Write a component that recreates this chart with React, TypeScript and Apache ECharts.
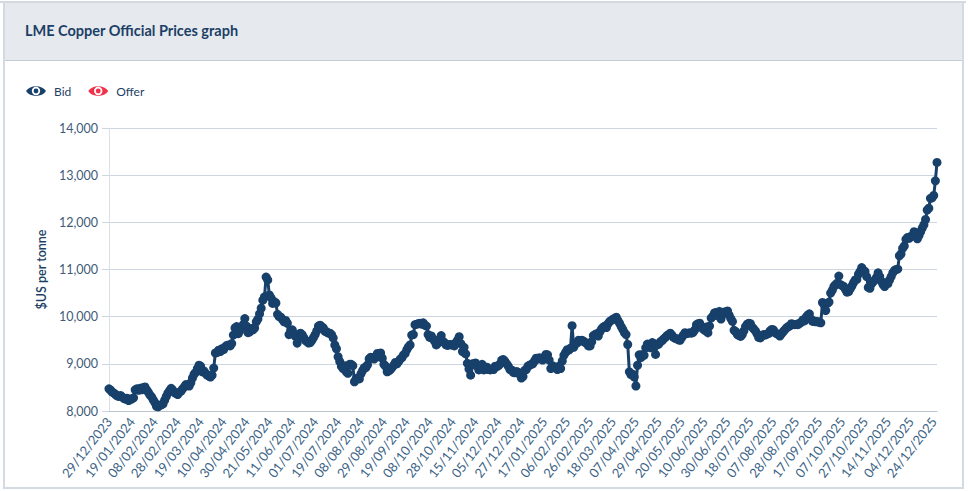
import React, { useEffect, useRef } from "react";
import * as echarts from "echarts";

const tickLabels = ["29/12/2023","19/01/2024","08/02/2024","28/02/2024","19/03/2024","10/04/2024","30/04/2024","21/05/2024","11/06/2024","01/07/2024","19/07/2024","08/08/2024","29/08/2024","19/09/2024","08/10/2024","28/10/2024","15/11/2024","05/12/2024","27/12/2024","17/01/2025","06/02/2025","26/02/2025","18/03/2025","07/04/2025","29/04/2025","20/05/2025","10/06/2025","30/06/2025","18/07/2025","07/08/2025","28/08/2025","17/09/2025","07/10/2025","27/10/2025","14/11/2025","04/12/2025","24/12/2025"];

const bidValues = [
  8470,8440,8400,8380,8350,8320,8310,8330,8300,8270,8250,8270,8220,8240,
  8260,8280,8450,8470,8440,8480,8450,8500,8510,8450,8400,8340,8300,8240,
  8180,8100,8090,8120,8130,8150,8230,8310,8380,8430,8480,8440,8390,8370,
  8350,8400,8420,8470,8510,8560,8540,8530,8600,8700,8780,8820,8900,8970,
  8950,8830,8850,8800,8760,8740,8720,8760,8910,9230,9240,9290,9260,9320,
  9300,9360,9390,9400,9380,9430,9610,9760,9790,9640,9700,9780,9830,9960,
  9800,9660,9680,9750,9720,9760,9890,9950,10060,10180,10350,10420,10840,10780,
  10460,10400,10280,10320,10290,10050,10000,9990,9940,9890,9920,9860,9620,9700,
  9720,9640,9580,9440,9560,9650,9620,9560,9500,9470,9440,9450,9500,9560,
  9620,9700,9800,9820,9790,9760,9690,9680,9650,9650,9620,9550,9400,9320,
  9150,9050,8950,8900,8960,8830,8800,8990,8990,8960,8620,8680,8700,8680,
  8790,8860,8920,8920,8980,9110,9140,9130,9100,9150,9220,9150,9230,9120,
  8990,8950,8830,8850,8880,8920,8970,9030,9000,9050,9100,9130,9190,9220,
  9300,9360,9400,9610,9620,9830,9840,9850,9860,9840,9870,9820,9800,9620,
  9560,9590,9530,9480,9400,9440,9520,9600,9480,9450,9400,9390,9410,9400,
  9410,9380,9450,9500,9575,9430,9260,9350,9210,9010,8890,8760,9000,8990,
  9020,8950,8870,8920,8990,8870,8890,8930,8880,8870,8890,8880,8950,8940,
  8960,9000,9080,9090,9050,9000,8950,8880,8870,8820,8810,8840,8820,8780,
  8700,8730,8860,8880,8950,8970,8990,9000,9060,9120,9100,9130,9110,9080,
  9140,9200,9190,9080,8900,8960,8920,8930,8880,8950,8900,9060,9180,9240,
  9300,9290,9330,9810,9350,9430,9440,9500,9480,9500,9480,9450,9440,9380,
  9380,9470,9600,9620,9640,9590,9680,9740,9780,9800,9770,9850,9900,9920,
  9950,9960,9990,9920,9860,9790,9730,9660,9620,9410,8830,8770,8780,8720,
  8530,8970,9190,9130,9200,9180,9340,9420,9410,9340,9450,9430,9200,9400,
  9420,9470,9490,9530,9560,9600,9620,9650,9610,9560,9540,9530,9510,9500,
  9560,9610,9660,9640,9650,9660,9650,9670,9720,9830,9850,9860,9790,9740,
  9710,9780,9660,9800,9970,10010,10080,10090,10020,10110,9950,10080,10100,10080,
  10120,10030,9960,9900,9710,9680,9620,9600,9580,9620,9700,9790,9840,9860,
  9850,9780,9740,9700,9640,9560,9550,9590,9620,9610,9630,9640,9700,9730,
  9720,9660,9640,9620,9590,9640,9680,9720,9760,9790,9800,9850,9840,9830,
  9840,9830,9860,9880,9930,9910,9990,10030,10060,9950,9900,9910,9890,9900,
  9880,9870,10300,10260,10130,10280,10310,10500,10560,10640,10680,10710,10860,10680,
  10660,10640,10580,10520,10530,10590,10650,10720,10780,10790,10900,10960,11040,10980,
  10960,10850,10620,10600,10700,10740,10780,10830,10930,10850,10750,10680,10640,10720,
  10700,10780,10850,10930,10980,11000,11010,11290,11330,11450,11500,11640,11680,11660,
  11700,11720,11800,11780,11650,11720,11800,11880,11950,12060,12260,12300,12510,12520,
  12570,12880,13270,
];

const categories = bidValues.map((_, i) => (i % 14 === 0 ? tickLabels[i / 14] : String(i)));

const EYE =
  "path://M0 6C4 -0.5 16 -0.5 20 6C16 12.5 4 12.5 0 6ZM10 1.8a4.2 4.2 0 1 0 0 8.4a4.2 4.2 0 1 0 0 -8.4ZM10 3.6a2.4 2.4 0 1 1 0 4.8a2.4 2.4 0 1 1 0 -4.8Z";

const FONT = "Lato, 'Open Sans', sans-serif";
const TITLE_COLOR = "#1d3f66";
const TICK_COLOR = "#3a6285";
const GRID_COLOR = "#ccd6e0";

export default function App() {
  const ref = useRef<HTMLDivElement>(null);
  useEffect(() => {
    const chart = echarts.init(ref.current!, undefined, { renderer: "svg" });
    chart.setOption({
      animation: false,
      backgroundColor: "#ffffff",
      textStyle: { fontFamily: FONT },
      graphic: [
        { type: "rect", z: -10, shape: { x: 0, y: 0, width: 968, height: 491 }, style: { fill: "#ffffff" } },
        { type: "rect", z: -9, shape: { x: 4, y: 3, width: 959, height: 57 }, style: { fill: "#e6eaef" } },
        { type: "rect", z: -8, shape: { x: 0, y: 1, width: 966, height: 2 }, style: { fill: "#d3dae1" } },
        { type: "rect", z: -8, shape: { x: 4, y: 60, width: 959, height: 1 }, style: { fill: "#c3ced9" } },
        { type: "rect", z: -8, shape: { x: 3, y: 1, width: 2, height: 488 }, style: { fill: "#d3dae1" } },
        { type: "rect", z: -8, shape: { x: 962, y: 1, width: 2, height: 488 }, style: { fill: "#d3dae1" } },
        { type: "rect", z: -8, shape: { x: 3, y: 487, width: 961, height: 2 }, style: { fill: "#d3dae1" } },
      ],
      title: {
        text: "LME Copper Official Prices graph",
        left: 20,
        top: 18,
        textStyle: { fontFamily: FONT, fontSize: 14.5, fontWeight: 700, color: TITLE_COLOR },
      },
      legend: {
        left: 21,
        top: 80,
        itemWidth: 20,
        itemHeight: 12,
        itemGap: 17,
        data: [
          { name: "Bid", icon: EYE },
          { name: "Offer", icon: EYE },
        ],
        textStyle: { fontFamily: FONT, fontSize: 12, color: TITLE_COLOR, padding: [0, 0, 0, 3] },
      },
      grid: { left: 109, right: 31, top: 128, bottom: 80 },
      xAxis: {
        type: "category",
        boundaryGap: false,
        data: categories,
        axisLine: { lineStyle: { color: "#b8c3cf", width: 1 } },
        axisTick: { show: false },
        splitLine: { show: false },
        axisLabel: {
          interval: 13,
          rotate: 52,
          margin: 8,
          fontFamily: FONT,
          fontSize: 13,
          color: TICK_COLOR,
          hideOverlap: false,
        },
      },
      yAxis: {
        type: "value",
        min: 8000,
        max: 14000,
        interval: 1000,
        name: "$US per tonne",
        nameLocation: "middle",
        nameGap: 59,
        nameTextStyle: { fontFamily: FONT, fontSize: 12.5, fontWeight: 600, color: TITLE_COLOR },
        axisLine: { show: true, lineStyle: { color: "#d8dfe6", width: 1 } },
        axisTick: { show: true, length: 7, lineStyle: { color: GRID_COLOR } },
        splitLine: { show: true, lineStyle: { color: GRID_COLOR, width: 1 } },
        axisLabel: {
          margin: 11,
          fontFamily: FONT,
          fontSize: 12.5,
          color: "#3f5b78",
          formatter: (v: number) => v.toLocaleString("en-US"),
        },
      },
      series: [
        {
          name: "Offer",
          type: "line",
          data: [],
          itemStyle: { color: "#f23049" },
          lineStyle: { color: "#f23049" },
        },
        {
          name: "Bid",
          type: "line",
          data: bidValues,
          symbol: "circle",
          symbolSize: 9,
          showSymbol: true,
          showAllSymbol: true,
          itemStyle: { color: "#17406b" },
          lineStyle: { color: "#17406b", width: 3, join: "miter", miterLimit: 10 },
        },
      ],
    });
    return () => chart.dispose();
  }, []);
  return <div ref={ref} style={{ position: "absolute", left: 0, top: 0, width: 968, height: 491 }} />;
}
